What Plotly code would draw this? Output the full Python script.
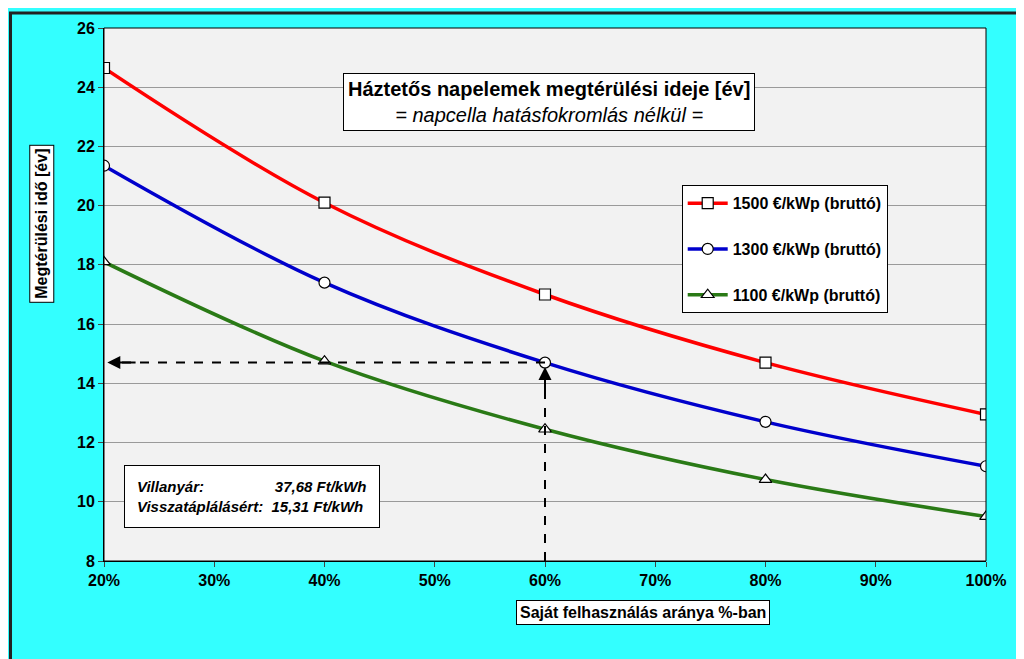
import plotly.graph_objects as go

x_pct = [20, 40, 60, 80, 100]
y_1500 = [24.65, 20.1, 17.0, 14.7, 12.95]
y_1300 = [21.35, 17.4, 14.7, 12.7, 11.2]
y_1100 = [18.1, 14.75, 12.45, 10.75, 9.5]
names = ["1500 €/kWp (bruttó)", "1300 €/kWp (bruttó)", "1100 €/kWp (bruttó)"]
colors = ["#FF0000", "#0000CC", "#2A7A16"]
symbols = ["square", "circle", "triangle-up"]

fig = go.Figure()
for ys, n, c, s in zip([y_1500, y_1300, y_1100], names, colors, symbols):
    fig.add_trace(go.Scatter(
        x=x_pct, y=ys, name=n, legendgroup=n, mode="lines+markers", line_shape="spline",
        line=dict(color=c, width=3.5),
        marker=dict(symbol=s, size=11, color="white", line=dict(color="black", width=1.2))))

font = dict(family="Liberation Sans, Arial", color="black")
fig.update_layout(
    width=1024, height=659, paper_bgcolor="#33FFFF", plot_bgcolor="#F2F2F2",
    margin=dict(l=96, r=46, t=18, b=106), font=font,
    legend=dict(x=0.655, y=0.705, xanchor="left", yanchor="top", bgcolor="white",
                bordercolor="black", borderwidth=1, tracegroupgap=22, traceorder="grouped",
                itemwidth=40,
                font=dict(size=16, family="Liberation Sans, Arial", color="black", weight="bold")),
)
fig.update_xaxes(range=[20, 100], dtick=10, ticksuffix="%", showgrid=False, zeroline=False,
                 showline=True, linecolor="black", linewidth=1,
                 tickfont=dict(size=16, weight="bold"), ticks="outside", ticklen=5)
fig.update_yaxes(range=[8, 26], dtick=2, showgrid=True, gridcolor="#9A9A9A", zeroline=False,
                 showline=True, linecolor="black", linewidth=1,
                 tickfont=dict(size=16, weight="bold"), ticks="outside", ticklen=5)

# plot area border
fig.add_shape(type="rect", xref="x domain", yref="y domain", x0=0, y0=0, x1=1, y1=1,
              line=dict(color="black", width=1))
# outer frame
fig.add_shape(type="rect", xref="paper", yref="paper", x0=-0.106, y0=-0.195, x1=1.048, y1=1.028,
              line=dict(color="#222222", width=3))

# dashed arrows
fig.add_shape(type="line", x0=60, y0=14.7, x1=21, y1=14.7, line=dict(color="black", width=2, dash="dash"))
fig.add_shape(type="line", x0=60, y0=8, x1=60, y1=14.3, line=dict(color="black", width=2, dash="dash"))
fig.add_annotation(x=20.3, y=14.7, ax=23, ay=14.7, axref="x", ayref="y", text="",
                   showarrow=True, arrowhead=2, arrowsize=1.3, arrowwidth=2, arrowcolor="black")
fig.add_annotation(x=60, y=14.55, ax=60, ay=13.6, axref="x", ayref="y", text="",
                   showarrow=True, arrowhead=2, arrowsize=1.3, arrowwidth=2, arrowcolor="black")

fig.add_annotation(xref="paper", yref="paper", x=0.505, y=0.915,
                   text="<b>Háztetős napelemek megtérülési ideje [év]</b><br><i>= napcella hatásfokromlás nélkül =</i>",
                   showarrow=False, font=dict(size=20), bgcolor="white", bordercolor="black",
                   borderwidth=1, borderpad=4)
fig.add_annotation(xref="paper", yref="paper", x=0.023, y=0.18, xanchor="left", yanchor="top",
                   align="left",
                   text="<b><i>Villanyár:                 37,68 Ft/kWh<br>Visszatáplálásért:  15,31 Ft/kWh</i></b>",
                   showarrow=False, font=dict(size=15), bgcolor="white", bordercolor="black",
                   borderwidth=1, borderpad=12)
fig.add_annotation(xref="paper", yref="paper", x=-0.085, y=0.78, textangle=-90,
                   text="<b>Megtérülési idő [év]</b>", showarrow=False, font=dict(size=16),
                   bgcolor="white", bordercolor="black", borderwidth=1, borderpad=3)
fig.add_annotation(xref="paper", yref="paper", x=0.755, y=-0.12,
                   text="<b>Saját felhasználás aránya %-ban</b>", showarrow=False, font=dict(size=16),
                   bgcolor="white", bordercolor="black", borderwidth=1, borderpad=3)

fig.write_html("out.html")
